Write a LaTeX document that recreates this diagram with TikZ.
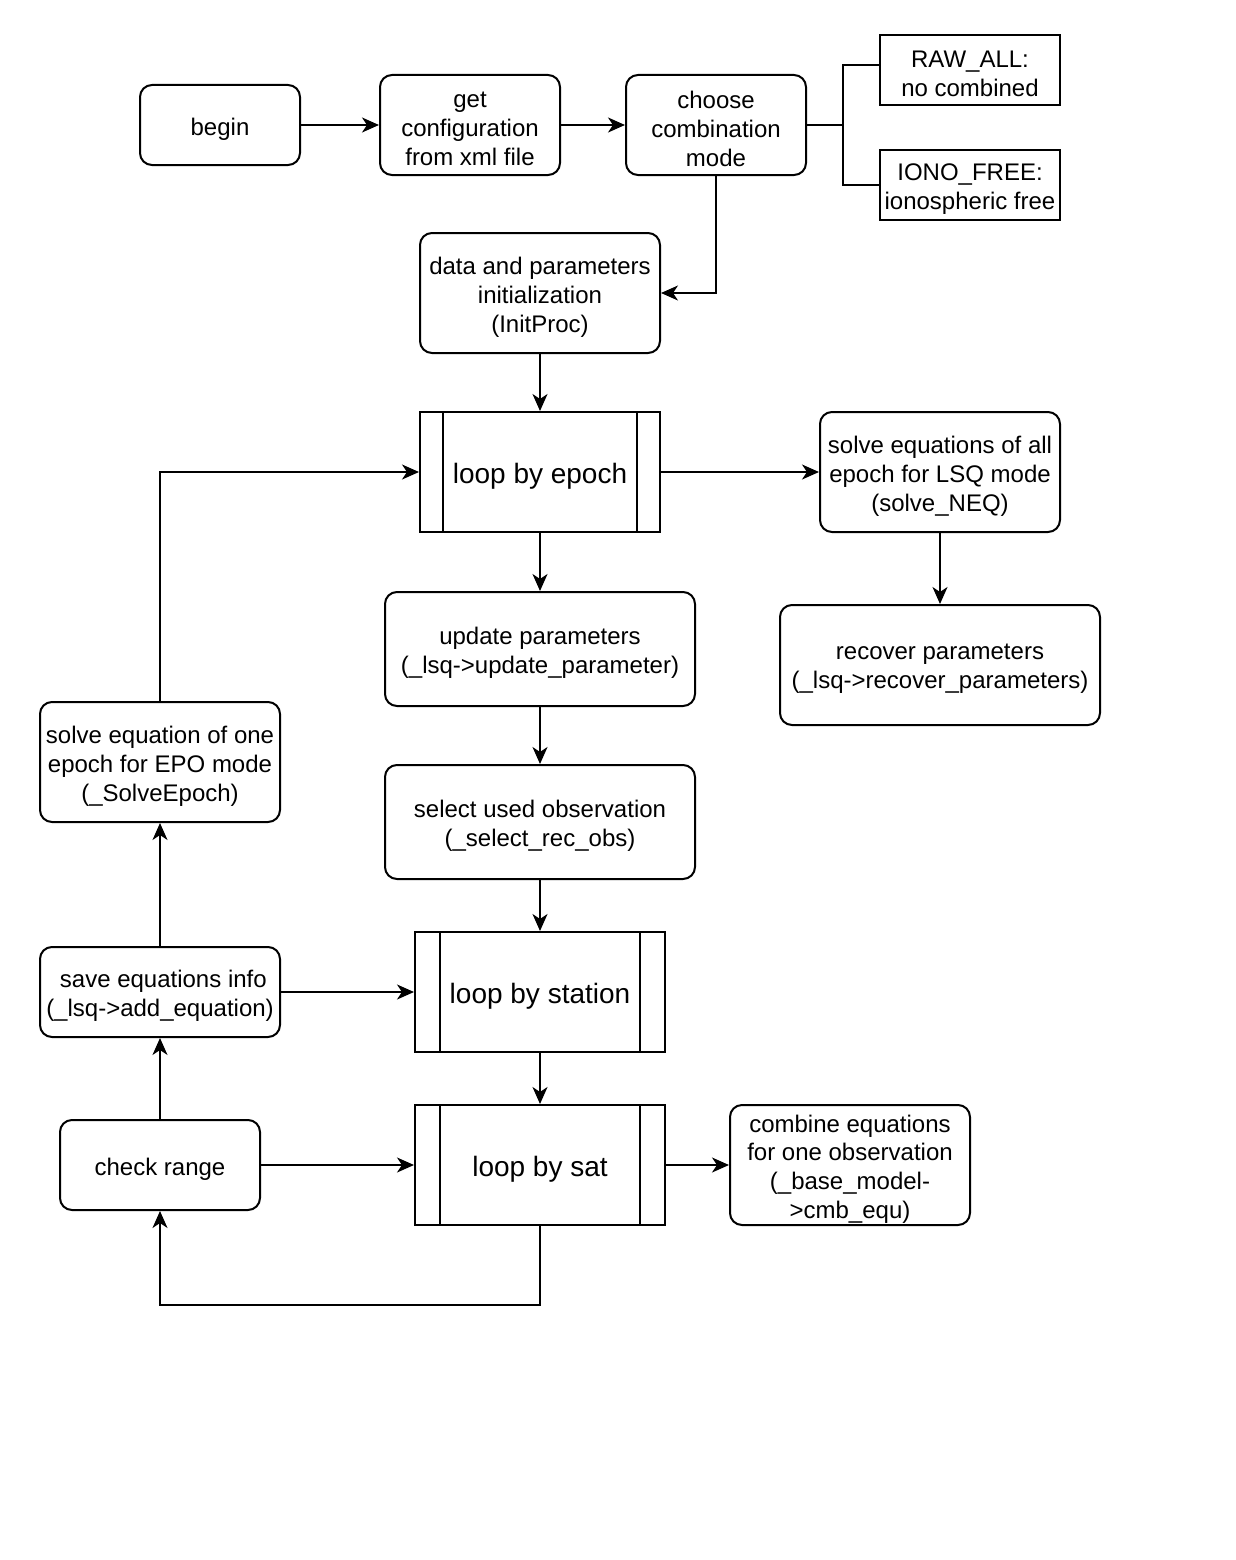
\documentclass[tikz,border=0pt]{standalone}
\usepackage{fontspec}
\setmainfont{Liberation Sans}
\usetikzlibrary{arrows.meta,positioning,calc}
\tikzset{
  base/.style={draw, line width=2pt, inner sep=0pt},
  rbox/.style={base, rounded corners=12pt},
  sbox/.style={base},
  pbox/.style={base},
  txt/.style={align=center, inner sep=0pt, font=\fontsize{24}{28.8}\selectfont},
  ptxt/.style={align=center, inner sep=0pt, font=\fontsize{28}{33.6}\selectfont},
  conn/.style={line width=2pt, -{Stealth[length=17pt,width=15pt,inset=5pt]}},
  plain/.style={line width=2pt}
}
% #1 box style, #2 name, #3 position, #4 width, #5 height, #6 text style, #7 text
\newcommand{\mkbox}[7]{%
  \node[#1, minimum width=#4, minimum height=#5] (#2) at #3 {};
  \node[#6] (#2-t) at ([yshift=-4pt]#2.center) {#7};}
\newcommand{\procbars}[2]{%
  \draw[plain] ([xshift=#2]#1.north west) -- ([xshift=#2]#1.south west);
  \draw[plain] ([xshift=-#2]#1.north east) -- ([xshift=-#2]#1.south east);}
\begin{document}
\begin{tikzpicture}[x=1pt,y=-1pt]
\useasboundingbox (0,0) rectangle (1235,1560);
\fill[white] (0,0) rectangle (1235,1560);

\mkbox{rbox}{begin}{(220,125)}{160pt}{80pt}{txt}{begin}
\mkbox{rbox}{conf}{(470,125)}{180pt}{100pt}{txt}{get\\configuration\\from xml file}
\mkbox{rbox}{mode}{(716,125)}{180pt}{100pt}{txt}{choose\\combination\\mode}
\mkbox{sbox}{raw}{(970,70)}{180pt}{70pt}{txt}{RAW\_ALL:\\no combined}
\mkbox{sbox}{iono}{(970,185)}{180pt}{70pt}{txt}{IONO\_FREE:\\ionospheric free}
\mkbox{rbox}{init}{(540,293)}{240pt}{120pt}{txt}{data and parameters\\initialization\\(InitProc)}
\mkbox{pbox}{epoch}{(540,472)}{240pt}{120pt}{ptxt}{loop by epoch}
\mkbox{rbox}{neq}{(940,472)}{240pt}{120pt}{txt}{solve equations of all\\epoch for LSQ mode\\(solve\_NEQ)}
\mkbox{rbox}{recover}{(940,665)}{320pt}{120pt}{txt}{recover parameters\\(\_lsq->recover\_parameters)}
\mkbox{rbox}{update}{(540,649)}{310pt}{114pt}{txt}{update parameters\\(\_lsq->update\_parameter)}
\mkbox{rbox}{select}{(540,822)}{310pt}{114pt}{txt}{select used observation\\(\_select\_rec\_obs)}
\mkbox{pbox}{station}{(540,992)}{250pt}{120pt}{ptxt}{loop by station}
\mkbox{pbox}{sat}{(540,1165)}{250pt}{120pt}{ptxt}{loop by sat}
\mkbox{rbox}{cmb}{(850,1165)}{240pt}{120pt}{txt}{combine equations\\for one observation\\(\_base\_model-\\>cmb\_equ)}
\mkbox{rbox}{check}{(160,1165)}{200pt}{90pt}{txt}{check range}
\mkbox{rbox}{save}{(160,992)}{240pt}{90pt}{txt}{\ save equations info\\(\_lsq->add\_equation)}
\mkbox{rbox}{epo}{(160,762)}{240pt}{120pt}{txt}{solve equation of one\\epoch for EPO mode\\(\_SolveEpoch)}

\procbars{epoch}{24pt}
\procbars{station}{26pt}
\procbars{sat}{26pt}

% bracket
\coordinate (bk) at (843,125);
\coordinate (bkt) at (843,65);
\coordinate (bkb) at (843,185);
\draw[plain] (mode.east) -- (bk);
\draw[plain] (raw.west |- bkt) -- (bkt) -- (bkb) -- (iono.west);

\draw[conn] (begin) -- (conf);
\draw[conn] (conf) -- (mode);
\draw[conn] (mode.south) |- (init.east);
\draw[conn] (init) -- (epoch);
\draw[conn] (epoch) -- (neq);
\draw[conn] (neq) -- (recover);
\draw[conn] (epoch) -- (update);
\draw[conn] (update) -- (select);
\draw[conn] (select) -- (station);
\draw[conn] (station) -- (sat);
\draw[conn] (sat) -- (cmb);
\draw[conn] (check) -- (sat);
\coordinate (lowR) at (540,1305);
\draw[conn] (sat.south) -- (lowR) -| (check.south);
\draw[conn] (check) -- (save);
\draw[conn] (save.east) -- (save.east -| station.west);
\draw[conn] (save) -- (epo);
\draw[conn] (epo.north) |- (epoch.west);
\end{tikzpicture}
\end{document}
